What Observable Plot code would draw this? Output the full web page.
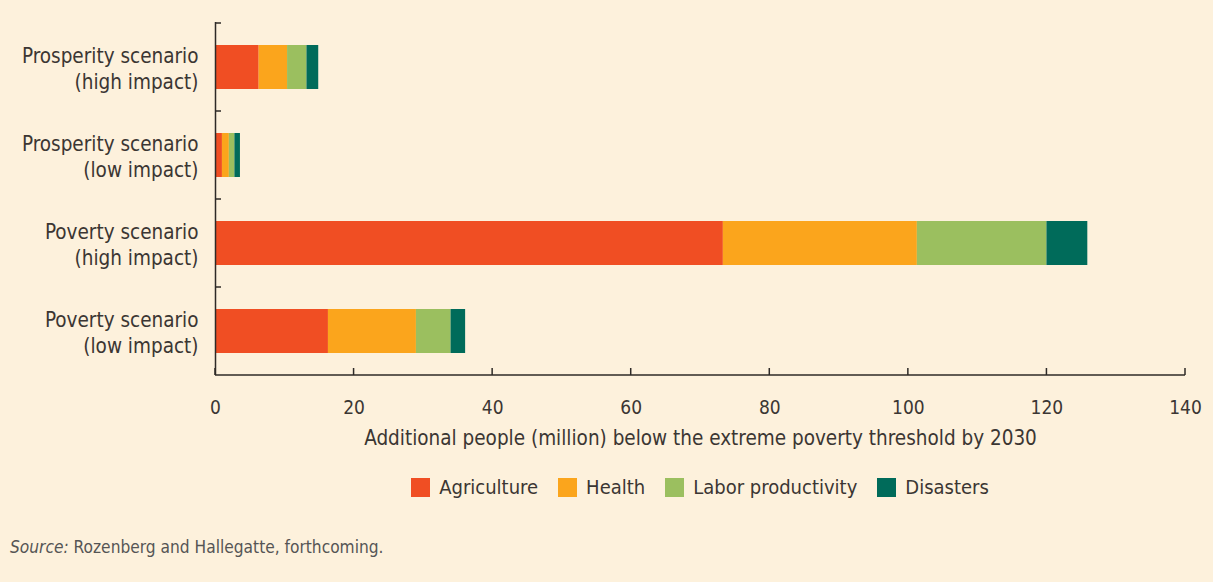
<!DOCTYPE html>
<html>
<head>
<meta charset="utf-8">
<script src="https://cdn.jsdelivr.net/npm/d3@7"></script>
<script src="https://cdn.jsdelivr.net/npm/@observablehq/plot@0.6"></script>
<style>
  html, body { margin: 0; padding: 0; background: #fdf1dc; }
  body { width: 1213px; height: 582px; overflow: hidden; font-family: "DejaVu Sans Condensed", "Open Sans", sans-serif; color: #3b3633; }
  #chart { position: absolute; left: 0; top: 0; }
  .legend { position: absolute; top: 475px; left: 0; width: 1400px; display: flex; justify-content: center; gap: 20px; font-size: 20px; }
  .legend .item { display: flex; align-items: center; }
  .legend .sw { width: 19px; height: 19px; margin-right: 9px; }
  .source { position: absolute; left: 10px; top: 537px; font-size: 17.2px; color: #555; }
</style>
</head>
<body>
<div id="chart"></div>
<div class="legend" id="legend"></div>
<div class="source"><i>Source:</i> Rozenberg and Hallegatte, forthcoming.</div>
<script>
const scenarios = [
  "Prosperity scenario\n(high impact)",
  "Prosperity scenario\n(low impact)",
  "Poverty scenario\n(high impact)",
  "Poverty scenario\n(low impact)"
];
const sectors = ["Agriculture", "Health", "Labor productivity", "Disasters"];
const colors = ["#f04e23", "#fba51c", "#9bbf5f", "#006b5a"];
const agriculture = [6.3, 1.0, 73.3, 16.3];
const health = [4.1, 1.0, 28.0, 12.7];
const labor = [2.8, 0.8, 18.7, 5.0];
const disasters = [1.7, 0.8, 5.9, 2.1];
const xTicks = [0, 20, 40, 60, 80, 100, 120, 140];

const series = [agriculture, health, labor, disasters];
const data = [];
scenarios.forEach((s, i) => {
  sectors.forEach((sec, j) => data.push({scenario: s, sector: sec, value: series[j][i]}));
});

const axisColor = "#2e2a27";

function frameMarks(index, scales, values, dimensions) {
  const g = d3.create("svg:g").attr("stroke", axisColor).attr("stroke-width", 1.5);
  const y = scales.y, x = scales.x;
  const step = y.step(), bw = y.bandwidth();
  const x0 = x(0);
  const bottom = dimensions.height - dimensions.marginBottom;
  scenarios.forEach(s => {
    const yy = y(s) - (step - bw) / 2;
    g.append("line").attr("x1", x0).attr("x2", x0 + 6).attr("y1", yy).attr("y2", yy);
  });
  g.append("line").attr("x1", x0).attr("x2", x(140)).attr("y1", bottom).attr("y2", bottom);
  xTicks.forEach(t => {
    g.append("line").attr("x1", x(t)).attr("x2", x(t)).attr("y1", bottom).attr("y2", bottom - 7);
  });
  return g.node();
}

const plot = Plot.plot({
  width: 1213,
  height: 455,
  marginLeft: 215,
  marginRight: 28,
  marginTop: 22,
  marginBottom: 80,
  style: {background: "transparent", fontFamily: "'DejaVu Sans Condensed', 'Open Sans', sans-serif", color: "#3b3633"},
  x: {domain: [0, 140]},
  y: {domain: scenarios, paddingInner: 0.5, paddingOuter: 0.25},
  color: {domain: sectors, range: colors},
  marks: [
    Plot.barX(data, {x: "value", y: "scenario", fill: "sector"}),
    Plot.ruleX([0], {stroke: axisColor, strokeWidth: 1.5}),
    frameMarks,
    Plot.axisX({ticks: xTicks, tickSize: 0, tickPadding: 25, fontSize: 19, label: "Additional people (million) below the extreme poverty threshold by 2030", labelAnchor: "center", labelArrow: "none", labelOffset: 69}),
    Plot.axisY({tickSize: 0, tickPadding: 17, fontSize: 20.5, label: null, lineHeight: 1.3})
  ]
});
document.getElementById("chart").appendChild(plot);

d3.select(plot).selectAll("[aria-label='x-axis label'] text").attr("font-size", 20.5);

const legend = document.getElementById("legend");
sectors.forEach((s, i) => {
  const it = document.createElement("div");
  it.className = "item";
  it.innerHTML = `<span class="sw" style="background:${colors[i]}"></span><span>${s}</span>`;
  legend.appendChild(it);
});
</script>
</body>
</html>
